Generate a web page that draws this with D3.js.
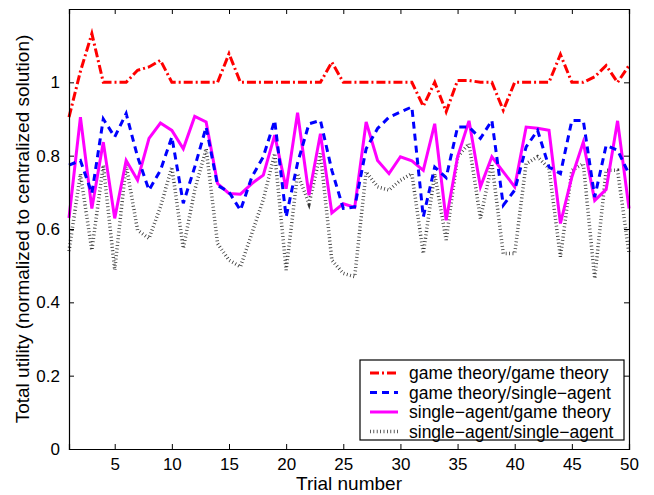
<!DOCTYPE html>
<html>
<head>
<meta charset="utf-8">
<script src="https://cdn.jsdelivr.net/npm/d3@7"></script>
<style>
  body { margin: 0; background: #fff; }
  text { font-family: "Liberation Sans", Arial, Helvetica, sans-serif; }
</style>
</head>
<body>
<svg width="654" height="495"></svg>
<script>
const trials = d3.range(1, 51);

const gameGame = [0.905, 1.03, 1.133, 1.0, 1.0, 1.0, 1.033, 1.042, 1.06, 1.0,
    1.0, 1.0, 1.0, 1.0, 1.078, 1.0, 1.0, 1.0, 1.0, 1.0,
    1.0, 1.0, 1.0, 1.055, 1.0, 1.0, 1.0, 1.0, 1.0, 1.0,
    1.0, 0.935, 1.0, 0.92, 1.005, 1.005, 1.0, 1.0, 0.924, 1.0,
    1.0, 1.0, 1.0, 1.076, 1.0, 1.0, 1.015, 1.046, 1.0, 1.046];

const gameSingle = [0.774, 0.787, 0.697, 0.90, 0.851, 0.915, 0.797, 0.706, 0.760, 0.851,
    0.670, 0.769, 0.878, 0.719, 0.701, 0.651, 0.742, 0.797, 0.896, 0.633,
    0.78, 0.887, 0.896, 0.76, 0.656, 0.660, 0.819, 0.874, 0.905, 0.919,
    0.933, 0.633, 0.769, 0.74, 0.878, 0.878, 0.847, 0.896, 0.665, 0.706,
    0.824, 0.869, 0.769, 0.751, 0.896, 0.896, 0.687, 0.828, 0.815, 0.75];

const singleGame = [0.63, 0.905, 0.656, 0.837, 0.629, 0.787, 0.733, 0.847, 0.889, 0.869,
    0.819, 0.907, 0.892, 0.724, 0.697, 0.695, 0.724, 0.747, 0.856, 0.710,
    0.917, 0.692, 0.860, 0.644, 0.669, 0.659, 0.892, 0.787, 0.751, 0.797,
    0.786, 0.760, 0.887, 0.624, 0.797, 0.895, 0.715, 0.797, 0.756, 0.715,
    0.878, 0.875, 0.869, 0.615, 0.742, 0.837, 0.678, 0.708, 0.895, 0.656];

const singleSingle = [0.54, 0.75, 0.542, 0.774, 0.488, 0.774, 0.597, 0.574, 0.660, 0.769,
    0.547, 0.706, 0.819, 0.560, 0.515, 0.497, 0.588, 0.68, 0.806, 0.488,
    0.751, 0.669, 0.806, 0.515, 0.479, 0.470, 0.756, 0.715, 0.706, 0.733,
    0.751, 0.533, 0.751, 0.57, 0.797, 0.833, 0.629, 0.778, 0.533, 0.533,
    0.778, 0.797, 0.765, 0.524, 0.760, 0.778, 0.465, 0.760, 0.760, 0.533];

const xTicks = [5, 10, 15, 20, 25, 30, 35, 40, 45, 50];
const yTicks = [0, 0.2, 0.4, 0.6, 0.8, 1];
const yTickLabels = ['0', '0.2', '0.4', '0.6', '0.8', '1'];

const seriesNames = ['game theory/game theory', 'game theory/single\u2212agent',
    'single\u2212agent/game theory', 'single\u2212agent/single\u2212agent'];

var margin = { top: 9, right: 25, bottom: 46, left: 69 };
var width = 654 - margin.left - margin.right;
var height = 495 - margin.top - margin.bottom;

var svg = d3.select('svg')
    .append('g')
    .attr('transform', 'translate(' + margin.left + ',' + margin.top + ')');

var x = d3.scaleLinear().domain([1, 50]).range([0, width]);
var y = d3.scaleLinear().domain([0, 1.2]).range([height, 0]);

var styles = [
    { data: gameGame, color: '#ff0000', w: 3, dash: '9,3,2,3' },
    { data: gameSingle, color: '#0000ff', w: 3, dash: '7,5' },
    { data: singleGame, color: '#ff00ff', w: 3, dash: null },
    { data: singleSingle, color: '#333', w: 3.5, dash: '0.8,2.6' }
];

var line = d3.line()
    .x((d, i) => x(trials[i]))
    .y((d) => y(d));

/* lines, last series at the back */
styles.slice().reverse().forEach(s => {
    svg.append('path')
        .datum(s.data)
        .attr('fill', 'none')
        .attr('stroke', s.color)
        .attr('stroke-width', s.w)
        .attr('stroke-dasharray', s.dash)
        .attr('stroke-linecap', 'butt')
        .attr('stroke-linejoin', 'miter')
        .attr('d', line);
});

/* box axes, ticks inside */
var tickLen = 5;
svg.append('g')
    .attr('transform', 'translate(0,' + height + ')')
    .call(d3.axisBottom(x).tickValues(xTicks).tickSize(-tickLen).tickPadding(9));
svg.append('g')
    .call(d3.axisTop(x).tickValues(xTicks).tickSize(-tickLen).tickFormat(''));
svg.append('g')
    .call(d3.axisLeft(y).tickValues(yTicks).tickSize(-tickLen).tickPadding(9)
        .tickFormat((d, i) => yTickLabels[i]));
svg.append('g')
    .attr('transform', 'translate(' + width + ',0)')
    .call(d3.axisRight(y).tickValues(yTicks).tickSize(-tickLen).tickFormat(''));

svg.selectAll('.domain').attr('stroke', '#000').attr('stroke-width', 1.2);
svg.selectAll('.tick line').attr('stroke', '#000');
svg.selectAll('.tick text')
    .attr('fill', '#000')
    .style('font-size', '17px');

/* axis labels */
svg.append('text')
    .attr('x', width / 2)
    .attr('y', height + 41)
    .attr('text-anchor', 'middle')
    .style('font-size', '19px')
    .text('Trial number');

svg.append('text')
    .attr('transform', 'translate(' + (-40) + ',' + (height / 2) + ') rotate(-90)')
    .attr('text-anchor', 'middle')
    .style('font-size', '19px')
    .text('Total utility (normalized to centralized solution)');

/* legend */
var legend = svg.append('g')
    .attr('transform', 'translate(' + (360 - margin.left) + ',' + (360 - margin.top) + ')');

legend.append('rect')
    .attr('width', 264)
    .attr('height', 80)
    .attr('fill', '#fff')
    .attr('stroke', '#000')
    .attr('stroke-width', 1.2);

styles.forEach((s, i) => {
    var ly = 13 + i * 19.5;
    legend.append('line')
        .attr('x1', 10).attr('x2', 38)
        .attr('y1', ly).attr('y2', ly)
        .attr('stroke', s.color)
        .attr('stroke-width', s.w)
        .attr('stroke-dasharray', s.dash);
    legend.append('text')
        .attr('x', 49)
        .attr('y', ly)
        .attr('dy', '0.36em')
        .style('font-size', '17.5px')
        .text(seriesNames[i]);
});
</script>
</body>
</html>
